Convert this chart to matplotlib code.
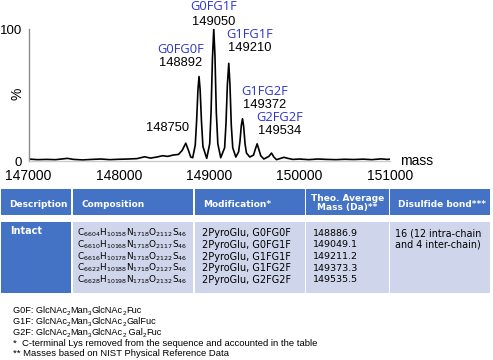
import re
import matplotlib
matplotlib.use("Agg")
import matplotlib.pyplot as plt
from matplotlib.patches import Rectangle

plt.rcParams['font.family'] = ['Liberation Sans', 'DejaVu Sans']
plt.rcParams['mathtext.fontset'] = 'custom'
plt.rcParams['mathtext.rm'] = 'DejaVu Sans'
plt.rcParams['mathtext.it'] = 'DejaVu Sans:italic'
plt.rcParams['mathtext.bf'] = 'DejaVu Sans:bold'

# ---------------- data ----------------
mass = [147000, 147100, 147200, 147300, 147430, 147500, 147600, 147700, 147800, 147900,
        148000, 148100, 148200, 148285, 148350, 148420, 148485, 148540, 148600,
        148660, 148700, 148740, 148770, 148795, 148817,
        148845, 148860, 148875, 148887, 148899, 148914, 148930, 148972,
        149005, 149020, 149035, 149050, 149063, 149078, 149095, 149127,
        149170, 149185, 149200, 149216, 149229, 149244, 149260, 149294,
        149325, 149340, 149355, 149368, 149381, 149396, 149412, 149449,
        149490, 149510, 149530, 149550, 149570, 149604,
        149660, 149689, 149715, 149744, 149790, 149826, 149870, 149925,
        150000, 150100, 150200, 150300, 150400, 150500, 150600, 150700,
        150800, 150900, 150970, 151000]
intensity = [1.5, 1.0, 1.2, 1.0, 2.0, 1.2, 0.8, 1.2, 1.5, 1.0,
             1.3, 1.5, 1.8, 3.2, 2.2, 3.0, 4.0, 3.5, 4.5,
             5.0, 8.0, 13.5, 8.0, 3.0, 2.5,
             12, 30, 54, 64, 54, 30, 11, 2.0,
             13, 37, 77, 100, 80, 37, 13, 2.5,
             10, 28, 57, 74, 58, 27, 10, 3.0,
             7, 15, 27, 32, 26, 13, 6, 3.0,
             4.5, 9, 13, 8.5, 4, 1.5,
             3.5, 6, 3, 1.0, 2.0, 2.8, 2.0, 1.2,
             1.5, 1.0, 1.5, 1.2, 1.0, 1.3, 1.1, 1.4,
             1.0, 1.6, 1.2, 1.4]

peak_mass = [148750, 148892, 149050, 149210, 149372, 149534]
peak_glycoform = ['', 'G0FG0F', 'G0FG1F', 'G1FG1F', 'G1FG2F', 'G2FG2F']

x_ticks = [147000, 148000, 149000, 150000, 151000]
y_ticks = [0, 100]

col_headers = ['Description', 'Composition', 'Modification*', 'Theo. Average\nMass (Da)**', 'Disulfide bond***']
description = 'Intact'
compositions = [
    r'C$_{6604}$H$_{10158}$N$_{1718}$O$_{2112}$S$_{46}$',
    r'C$_{6610}$H$_{10168}$N$_{1718}$O$_{2117}$S$_{46}$',
    r'C$_{6616}$H$_{10178}$N$_{1718}$O$_{2122}$S$_{46}$',
    r'C$_{6622}$H$_{10188}$N$_{1718}$O$_{2127}$S$_{46}$',
    r'C$_{6628}$H$_{10198}$N$_{1718}$O$_{2132}$S$_{46}$',
]
modifications = ['2PyroGlu, G0FG0F', '2PyroGlu, G0FG1F', '2PyroGlu, G1FG1F',
                 '2PyroGlu, G1FG2F', '2PyroGlu, G2FG2F']
theo_mass = ['148886.9', '149049.1', '149211.2', '149373.3', '149535.5']
disulfide = ['16 (12 intra-chain', 'and 4 inter-chain)']
footnotes = [
    r'G0F: GlcNAc$_2$Man$_3$GlcNAc$_2$Fuc',
    r'G1F: GlcNAc$_2$Man$_3$GlcNAc$_2$GalFuc',
    r'G2F: GlcNAc$_2$Man$_3$GlcNAc$_2$ Gal$_2$Fuc',
    '*  C-terminal Lys removed from the sequence and accounted in the table',
    '** Masses based on NIST Physical Reference Data',
]

# ---------------- figure ----------------
W, H = 493, 360
fig = plt.figure(figsize=(W / 100, H / 100), dpi=100)
renderer = fig.canvas.get_renderer()

# overlay axes in pixel coordinates for table & notes
tax = fig.add_axes([0, 0, 1, 1])
tax.set_xlim(0, W)
tax.set_ylim(H, 0)
tax.axis('off')

# spectrum axes
left_px, right_px, top_px, bot_px = 28.5, 390.0, 29.0, 161.0
ax = fig.add_axes([left_px / W, 1 - bot_px / H, (right_px - left_px) / W, (bot_px - top_px) / H])
ax.patch.set_visible(False)
ax.plot(mass, intensity, color='black', lw=1.2, solid_joinstyle='round')
ax.set_xlim(147000, 151000)
ax.set_ylim(0, 100)
ax.set_xticks(x_ticks)
ax.set_yticks(y_ticks)
ax.tick_params(length=0, labelsize=10)
ax.tick_params(axis='x', pad=6)
ax.tick_params(axis='y', pad=4.5, labelsize=9.5)
for s in ['top', 'right']:
    ax.spines[s].set_visible(False)
ax.spines['left'].set_color('#8c8c8c')
ax.spines['bottom'].set_color('#cccccc')
ax.spines['left'].set_linewidth(1.0)
ax.spines['bottom'].set_linewidth(1.0)
tax.text(17, 94, '%', rotation=90, ha='center', va='center', fontsize=10)
ax.text(151110, 0, 'mass', ha='left', va='center', fontsize=10, clip_on=False)

# peak annotations (x offset in Da, y of glycoform / mass label in %)
label_dx = [-210, -210, 0, 235, 245, 245]
label_y_name = [None, 84.8, 117.0, 96.2, 53.0, 33.0]
label_y_mass = [25.0, 74.6, 105.3, 85.6, 42.4, 23.1]
blue = '#2F35C9'
for m, g, dx, yn, ym in zip(peak_mass, peak_glycoform, label_dx, label_y_name, label_y_mass):
    ax.text(m + dx, ym, str(m), ha='center', va='center', fontsize=9.3, color='black', clip_on=False)
    if g:
        ax.text(m + dx, yn, g, ha='center', va='center', fontsize=9.3, color=blue,
                family=['Open Sans', 'DejaVu Sans'], clip_on=False)

# ---------------- table ----------------
hdr_blue = '#4472C4'
light = '#CFD5EA'
cols = [(1, 71), (72.5, 193), (194.5, 304.5), (306, 388.5), (390, 490)]
hdr_top, hdr_bot = 189, 215
body_top, body_bot = 222, 293
tfont = ['DejaVu Sans']
for i, (x0, x1) in enumerate(cols):
    tax.add_patch(Rectangle((x0, hdr_top), x1 - x0, hdr_bot - hdr_top, color=hdr_blue, lw=0))
    tax.add_patch(Rectangle((x0, body_top), x1 - x0, body_bot - body_top,
                            color=hdr_blue if i == 0 else light, lw=0))

hdr_cy = 204.5
for i, (txt, (x0, x1)) in enumerate(zip(col_headers, cols)):
    if i == 3:
        tax.text((x0 + x1) / 2, 203, txt, ha='center', va='center', color='white',
                 fontsize=6.5, fontweight='bold', family=tfont, linespacing=1.1)
    else:
        tax.text(x0 + 8.5, hdr_cy, txt, ha='left', va='center', color='white',
                 fontsize=6.5, fontweight='bold', family=tfont)

tax.text(cols[0][0] + 9, 231, description, ha='left', va='center', color='white',
         fontsize=7.0, fontweight='bold', family=tfont)
row_y0, row_dy = 233, 11.75
for r in range(len(compositions)):
    y = row_y0 + r * row_dy
    tax.text(77, y, compositions[r], ha='left', va='center', fontsize=6.4, family=tfont)
    tax.text(202, y, modifications[r], ha='left', va='center', fontsize=7.0, family=tfont)
    tax.text(313, y, theo_mass[r], ha='left', va='center', fontsize=6.8, family=tfont)
for r, t in enumerate(disulfide):
    tax.text(395, row_y0 + r * row_dy, t, ha='left', va='center', fontsize=6.9, family=tfont)


# ---------------- footnotes (subscripts drawn as separate small texts) ----------------
def draw_rich(x, y, s, fs):
    parts = re.split(r'\$_\{?([^$}]*)\}?\$', s)
    for i, p in enumerate(parts):
        if not p:
            continue
        sub = (i % 2 == 1)
        t = tax.text(x, y + (2.6 if sub else 0), p, ha='left', va='center',
                     fontsize=fs * 0.68 if sub else fs)
        x += t.get_window_extent(renderer).width


foot_y = [310.5, 321.5, 332.5, 343.5, 353.5]
foot_size = [6.6, 6.6, 6.6, 6.8, 6.8]
for t, y, fs in zip(footnotes, foot_y, foot_size):
    draw_rich(13, y, t, fs)

fig.savefig('out.png', dpi=100)
